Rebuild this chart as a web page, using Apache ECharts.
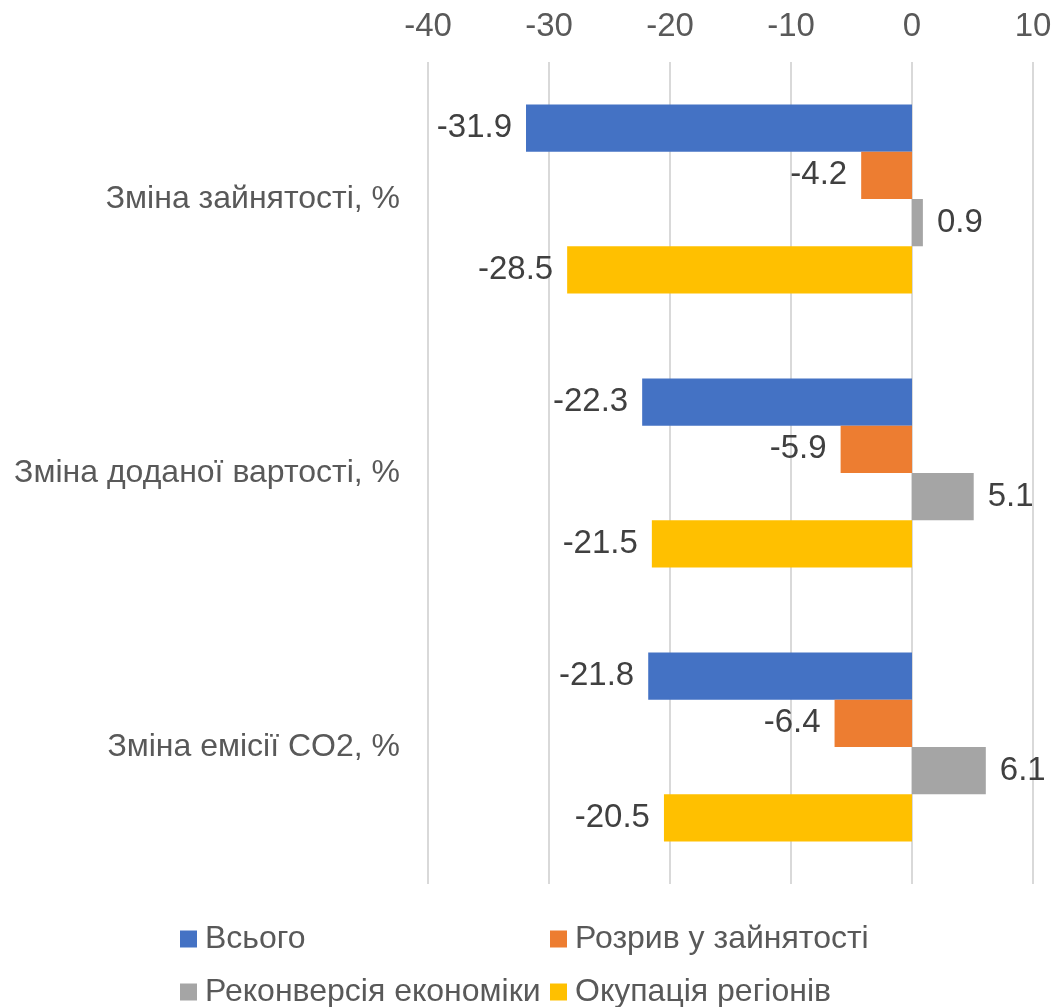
<!DOCTYPE html>
<html>
<head>
<meta charset="utf-8">
<script src="https://cdn.jsdelivr.net/npm/echarts@6/dist/echarts.min.js"></script>
<style>html,body{margin:0;padding:0;background:#fff}#c{width:1056px;height:1007px}</style>
</head>
<body>
<div id="c"></div>
<script>
const categories = ['Зміна зайнятості, %', 'Зміна доданої вартості, %', 'Зміна емісії CO2, %'];
const seriesNames = ['Всього', 'Розрив у зайнятості', 'Реконверсія економіки', 'Окупація регіонів'];
const total = [-31.9, -22.3, -21.8];
const gap = [-4.2, -5.9, -6.4];
const reconversion = [0.9, 5.1, 6.1];
const occupation = [-28.5, -21.5, -20.5];
const tickMin = -40, tickMax = 10, tickStep = 10;
const colors = ['#4472C4', '#ED7D31', '#A5A5A5', '#FFC000'];

const font = 'Liberation Sans, Arial, sans-serif';
const valuesList = [total, gap, reconversion, occupation];

function mk(vals) {
  return vals.map(v => ({ value: v, label: { position: v < 0 ? 'left' : 'right' } }));
}

const series = valuesList.map((vals, i) => ({
  name: seriesNames[i],
  type: 'bar',
  data: mk(vals),
  barGap: '0%',
  barCategoryGap: '31%',
  itemStyle: { color: colors[i] },
  label: { show: true, distance: 14, color: '#404040', fontSize: 33, fontFamily: font, formatter: p => p.value.toFixed(1) },
  emphasis: { disabled: true },
  animation: false
}));

const legendPos = [[180, 923], [550, 923], [180, 976], [550, 976]];
const legends = seriesNames.map((n, i) => ({
  data: [n], left: legendPos[i][0], top: legendPos[i][1], padding: 0,
  icon: 'rect', itemWidth: 17, itemHeight: 17, itemGap: 0,
  textStyle: { color: '#595959', fontSize: 32, fontFamily: font, padding: [0, 0, 0, 3] },
  selectedMode: false
}));

const chart = echarts.init(document.getElementById('c'));
chart.setOption({
  backgroundColor: '#fff',
  animation: false,
  grid: { left: 428, right: 23, top: 62, bottom: 123, containLabel: false },
  legend: legends,
  xAxis: {
    type: 'value', position: 'top', min: tickMin, max: tickMax, interval: tickStep,
    axisLine: { show: false }, axisTick: { show: false },
    splitLine: { lineStyle: { color: '#D9D9D9', width: 2 } },
    axisLabel: { color: '#595959', fontSize: 33, fontFamily: font, margin: 19 }
  },
  yAxis: {
    type: 'category', data: categories, inverse: true,
    axisLine: { show: false }, axisTick: { show: false },
    axisLabel: { color: '#595959', fontSize: 32, fontFamily: font, margin: 28 }
  },
  series
});
</script>
</body>
</html>
